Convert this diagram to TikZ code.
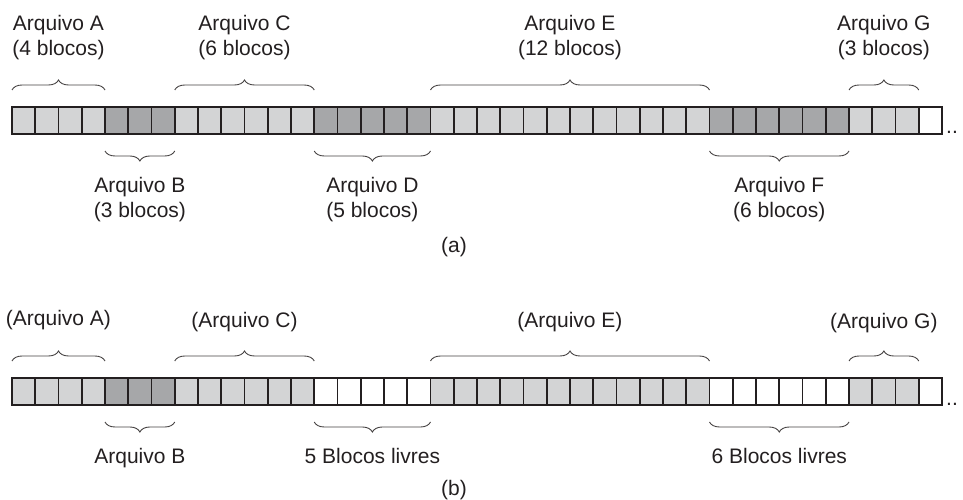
\documentclass[tikz,border=0pt]{standalone}
\usepackage{fontspec}
\setmainfont{Liberation Sans}
\usetikzlibrary{decorations.pathreplacing,calc}
\definecolor{lightblk}{HTML}{D3D4D5}
\definecolor{darkblk}{HTML}{A6A7A9}
\definecolor{inkc}{HTML}{231F20}
\begin{document}
\begin{tikzpicture}[x=1pt,y=-1pt,
  blk/.style={draw=inkc, line width=1.8pt, minimum width=23.25pt, minimum height=27pt, inner sep=0pt, outer sep=0pt},
  lt/.style={blk, fill=lightblk},
  dk/.style={blk, fill=darkblk},
  fr/.style={blk, fill=white},
  frame/.style={draw=inkc, line width=2.4pt},
  brc/.style={draw=inkc!85, line width=0.9pt, decorate, decoration={brace, amplitude=10pt}},
  brcm/.style={draw=inkc!85, line width=0.9pt, decorate, decoration={brace, amplitude=10pt, mirror}},
  lbl/.style={font=\fontsize{21}{25}\selectfont, text=inkc, inner sep=0pt, anchor=base}]
\useasboundingbox (0,0) rectangle (963,500);

% ---------- strip (a)
\foreach \s [count=\i from 0] in {lt,lt,lt,lt,dk,dk,dk,lt,lt,lt,lt,lt,lt,dk,dk,dk,dk,dk,lt,lt,lt,lt,lt,lt,lt,lt,lt,lt,lt,lt,dk,dk,dk,dk,dk,dk,lt,lt,lt,fr}
  \node[\s] (a\i) at ({12+(\i+0.5)*23.25},120.5) {};
\draw[frame] (a0.north west) rectangle (a39.south east);
\node[lbl, anchor=base west] (dotsa) at (946,134) {..};

% braces (a)
\draw[brc] ([yshift=17pt]a0.north west) -- ([yshift=17pt]a3.north east);
\draw[brc] ([yshift=17pt]a7.north west) -- ([yshift=17pt]a12.north east);
\draw[brc] ([yshift=17pt]a18.north west) -- ([yshift=17pt]a29.north east);
\draw[brc] ([yshift=17pt]a36.north west) -- ([yshift=17pt]a38.north east);
\draw[brcm] ([yshift=-17pt]a4.south west) -- ([yshift=-17pt]a6.south east);
\draw[brcm] ([yshift=-17pt]a13.south west) -- ([yshift=-17pt]a17.south east);
\draw[brcm] ([yshift=-17pt]a30.south west) -- ([yshift=-17pt]a35.south east);

% labels (a)
\node[lbl] (la1) at (58.5,31) {Arquivo A};
\node[lbl] (la2) at (58.5,56) {(4 blocos)};
\node[lbl] (lc1) at (244.5,31) {Arquivo C};
\node[lbl] (lc2) at (244.5,56) {(6 blocos)};
\node[lbl] (le1) at (570,31) {Arquivo E};
\node[lbl] (le2) at (570,56) {(12 blocos)};
\node[lbl] (lg1) at (883.9,31) {Arquivo G};
\node[lbl] (lg2) at (883.9,56) {(3 blocos)};
\node[lbl] (lb1) at (139.9,192) {Arquivo B};
\node[lbl] (lb2) at (139.9,217) {(3 blocos)};
\node[lbl] (ld1) at (372.4,192) {Arquivo D};
\node[lbl] (ld2) at (372.4,217) {(5 blocos)};
\node[lbl] (lf1) at (779.3,192) {Arquivo F};
\node[lbl] (lf2) at (779.3,217) {(6 blocos)};
\node[lbl] (capa) at (454,252) {(a)};

% ---------- strip (b)
\foreach \s [count=\i from 0] in {lt,lt,lt,lt,dk,dk,dk,lt,lt,lt,lt,lt,lt,fr,fr,fr,fr,fr,lt,lt,lt,lt,lt,lt,lt,lt,lt,lt,lt,lt,fr,fr,fr,fr,fr,fr,lt,lt,lt,fr}
  \node[\s] (b\i) at ({12+(\i+0.5)*23.25},391.5) {};
\draw[frame] (b0.north west) rectangle (b39.south east);
\node[lbl, anchor=base west] (dotsb) at (946,405) {..};

% braces (b)
\draw[brc] ([yshift=17pt]b0.north west) -- ([yshift=17pt]b3.north east);
\draw[brc] ([yshift=17pt]b7.north west) -- ([yshift=17pt]b12.north east);
\draw[brc] ([yshift=17pt]b18.north west) -- ([yshift=17pt]b29.north east);
\draw[brc] ([yshift=17pt]b36.north west) -- ([yshift=17pt]b38.north east);
\draw[brcm] ([yshift=-17pt]b4.south west) -- ([yshift=-17pt]b6.south east);
\draw[brcm] ([yshift=-17pt]b13.south west) -- ([yshift=-17pt]b17.south east);
\draw[brcm] ([yshift=-17pt]b30.south west) -- ([yshift=-17pt]b35.south east);

% labels (b)
\node[lbl] (pa) at (58.5,325) {(Arquivo A)};
\node[lbl] (pc) at (244.5,327) {(Arquivo C)};
\node[lbl] (pe) at (570,327) {(Arquivo E)};
\node[lbl] (pg) at (883.9,328) {(Arquivo G)};
\node[lbl] (pb) at (139.9,463) {Arquivo B};
\node[lbl] (free5) at (372.4,463) {5 Blocos livres};
\node[lbl] (free6) at (779.3,463) {6 Blocos livres};
\node[lbl] (capb) at (454,495) {(b)};
\end{tikzpicture}
\end{document}
